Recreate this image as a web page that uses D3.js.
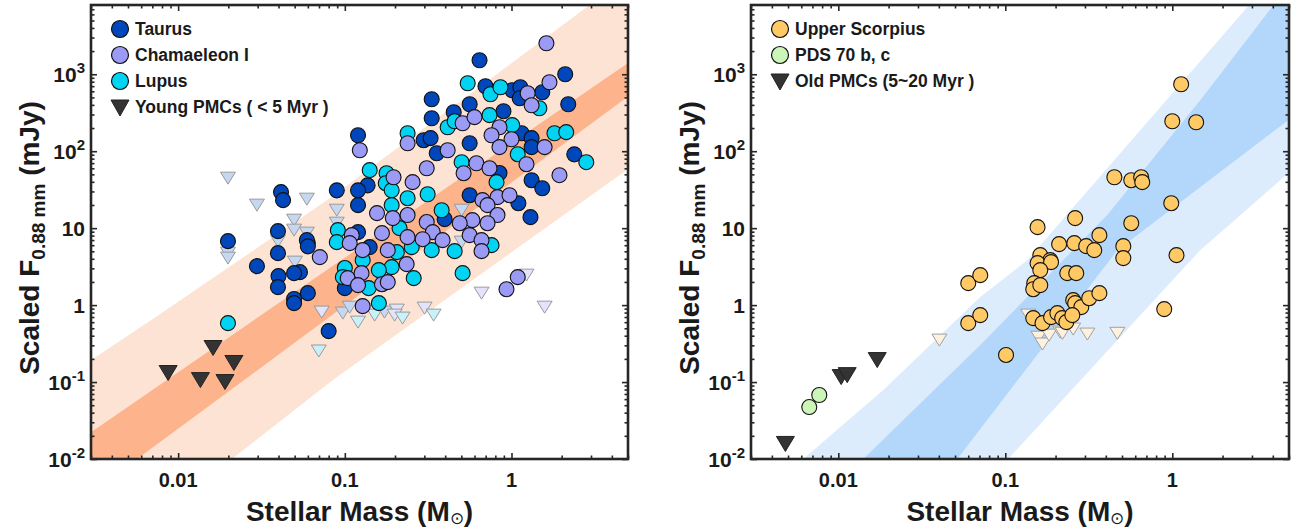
<!DOCTYPE html>
<html>
<head>
<meta charset="utf-8">
<script src="https://cdn.jsdelivr.net/npm/d3@7"></script>
<style>
  body { margin: 0; background: #fff; }
  text { font-family: "Liberation Sans", Arial, sans-serif; font-weight: bold; fill: #1a1a1a; }
</style>
</head>
<body>
<svg id="chart" width="1301" height="531"></svg>
<script>
// values are [stellar mass (Msun), scaled flux (mJy)]
const taurus = [[0.643,1520],[2.10,1000],[0.698,698],[1.01,620],[1.13,678],[1.53,584],[1.12,488],[2.19,408],[0.332,473],[0.332,268],[0.561,408],[0.450,321],[0.895,331],[1.15,171],[1.32,148],[1.32,113],[0.120,161],[0.297,139],[0.327,148],[0.356,94],[0.561,127],[2.38,91],[1.32,42],[1.53,33],[0.137,36],[0.0895,31],[0.120,31],[0.847,52],[0.120,19.9],[0.397,13.1],[0.561,26.8],[1.10,21.1],[1.30,13.9],[0.120,8.87],[0.141,5.67],[0.100,1.66],[0.080,0.459],[0.060,1.43],[0.060,6.38],[0.0538,2.68],[0.0199,6.78],[0.0297,3.21],[0.0397,9.14],[0.0397,4.73],[0.040,2.38],[0.0397,1.71],[0.0496,2.60],[0.0496,1.20],[0.0496,1.06],[0.0592,6.98],[0.060,5.8],[0.0414,29.4],[0.0426,23.1]];
const chamaeleon = [[1.62,2530],[1.25,567],[1.69,787],[1.32,396],[0.509,231],[0.600,277],[0.847,205],[0.759,161],[1.0,143],[1.58,113],[0.123,103],[0.238,127],[0.414,103],[0.847,113],[1.23,67.8],[1.94,48.8],[0.196,45.9],[0.310,60.1],[0.255,39.6],[0.516,51.8],[0.616,69.8],[0.738,60.1],[0.670,23.1],[0.824,25.3],[0.973,26.8],[0.718,19.9],[0.824,14.8],[0.583,12.7],[0.489,11.6],[0.718,11.6],[0.561,8.11],[0.661,6.98],[0.661,5.03],[0.156,15.7],[0.194,13.5],[0.238,14.8],[0.310,12.0],[0.337,8.87],[0.386,6.98],[0.293,7.19],[0.238,7.64],[0.167,8.61],[0.110,8.11],[0.107,6.38],[0.128,5.18],[0.181,5.18],[0.235,3.41],[0.104,2.24],[0.126,2.60],[0.120,1.82],[0.167,1.87],[0.181,1.99],[1.09,2.31],[0.933,1.61],[0.128,0.97],[0.0708,4.20]];
const lupus = [[0.546,764],[0.748,550],[0.859,678],[1.47,362],[0.414,205],[0.456,245],[0.738,294],[1.01,218],[1.81,171],[2.13,177],[0.238,171],[1.09,91.4],[2.81,72],[0.141,56.7],[0.178,51.8],[0.176,38.4],[0.502,72],[0.813,39.6],[0.191,31],[0.238,24.5],[0.314,27.6],[0.381,17.1],[0.191,19.9],[0.213,10],[0.759,6.01],[0.456,5.03],[0.332,5.18],[0.252,5.67],[0.0908,9.42],[0.0895,6.58],[0.128,3.84],[0.205,4.88],[0.191,3.12],[0.160,2.85],[0.1,3.03],[0.0973,2.31],[0.139,1.66],[0.259,2.24],[0.509,2.60],[0.160,1.06],[0.0199,0.583]];
const taurusLim = [[0.0199,44.6],[0.0297,19.9],[0.0592,23.8],[0.0496,12.7],[0.0496,9.42],[0.0592,8.61],[0.0397,6.78],[0.0502,3.62],[0.0199,4.73],[0.0199,4.08],[0.0895,17.1],[0.0895,11.6],[0.0973,0.787],[0.173,0.811],[0.502,17.1],[0.502,6.58],[0.107,0.94]];
const chamaeleonLim = [[0.661,1.43],[1.23,2.45],[1.58,0.94],[0.0727,0.811],[0.205,0.861],[0.301,0.914],[0.199,0.741]];
const lupusLim = [[0.0698,0.253],[0.120,0.601],[0.151,0.741],[0.222,0.678],[0.341,0.741]];
const youngPMC = [[0.00871,0.131],[0.0136,0.106],[0.0162,0.277],[0.0191,0.1],[0.0216,0.177]];

const upperSco = [[1.13,741],[1.0,245],[1.39,238],[0.450,45.9],[0.568,42],[0.651,45.9],[0.661,39.6],[0.986,21.1],[0.156,10.3],[0.262,13.5],[0.568,11.6],[0.366,8.11],[0.210,6.2],[0.259,6.38],[0.305,5.84],[0.341,5.18],[0.509,5.84],[0.162,4.46],[0.186,3.84],[0.509,4.08],[1.06,4.46],[0.060,1.93],[0.0708,2.45],[0.156,3.51],[0.188,3.62],[0.162,2.85],[0.235,2.60],[0.266,2.60],[0.149,1.93],[0.147,1.61],[0.162,1.82],[0.060,0.583],[0.0708,0.741],[0.255,1.16],[0.262,1.06],[0.285,0.94],[0.318,1.23],[0.366,1.43],[0.147,0.678],[0.167,0.583],[0.188,0.698],[0.205,0.787],[0.219,0.678],[0.232,0.601],[0.252,0.741],[0.895,0.887],[0.101,0.225]];
const upperScoLim = [[0.0403,0.351],[0.137,0.741],[0.158,0.383],[0.167,0.312],[0.183,0.407],[0.213,0.446],[0.22,0.43],[0.255,0.488],[0.310,0.42],[0.469,0.43]];
const pds70 = [[0.0067,0.0473],[0.00769,0.0678]];
const oldPMC = [[0.00482,0.0157],[0.0104,0.116],[0.0113,0.123],[0.0171,0.193]];

// relation bands, edges listed from low to high mass
const orangeOuterUp = [[0.00301,0.193],[0.00813,0.811],[0.0813,24.5],[2.93,7870],[5.6,20000]];
const orangeOuterLow = [[0.0025,0.0003],[0.021,0.01],[0.0847,0.106],[4.03,42],[5.6,69]];
const orangeInnerUp = [[0.0025,0.017],[5.6,1660]];
const orangeInnerLow = [[0.0025,0.0027],[5.6,617]];
const blueOuterUp = [[0.0025,0.0019],[0.00617,0.01],[0.0186,0.0787],[0.0708,1.27],[0.1355,3.84],[2.81,7413],[5.6,40000]];
const blueOuterLow = [[0.0316,0.0006],[0.104,0.01],[1.47,5.18],[4.95,51.8],[5.6,66]];
const blueInnerUp = [[0.005,0.0015],[0.0141,0.01],[0.0708,0.303],[0.408,14.8],[1.47,459],[4.03,7870],[5.6,20000]];
const blueInnerLow = [[0.0251,0.0013],[0.0516,0.01],[0.469,5.18],[4.95,253],[5.6,309]];

const xMajor = [0.01, 0.1, 1];
const yMajor = [0.01, 0.1, 1, 10, 100, 1000];

const svg = d3.select("#chart");
const plotTop = 5, plotBottom = 459;
const xDomain = [0.003, 5], yDomain = [0.01, Math.pow(10, 3.9)];

function triPath(w, h) {
  return "M" + (-w/2) + "," + (-h/2) + "L" + (w/2) + "," + (-h/2) + "L0," + (h/2) + "Z";
}

function minorTicks(lo, hi) {
  const out = [];
  for (let e = -4; e <= 4; e++) {
    for (let m = 2; m <= 9; m++) {
      const v = m * Math.pow(10, e);
      if (v >= lo * 0.999 && v <= hi * 1.001) out.push(v);
    }
  }
  return out;
}

function drawPanel(p) {
  const x = d3.scaleLog().domain(xDomain).range([p.x0, p.x1]);
  const y = d3.scaleLog().domain(yDomain).range([plotBottom, plotTop]);
  const g = svg.append("g");

  svg.append("clipPath").attr("id", "clip" + p.id)
    .append("rect").attr("x", p.x0).attr("y", plotTop)
    .attr("width", p.x1 - p.x0).attr("height", plotBottom - plotTop);
  const area = g.append("g").attr("clip-path", "url(#clip" + p.id + ")");

  const band = (up, low) => "M" + up.concat(low.slice().reverse())
      .map(d => x(d[0]) + "," + y(d[1])).join("L") + "Z";
  area.append("path").attr("d", band(p.outerUp, p.outerLow)).attr("fill", p.outerCol);
  area.append("path").attr("d", band(p.innerUp, p.innerLow)).attr("fill", p.innerCol);

  p.layers.forEach(function(l) {
    if (l.shape === "circle") {
      area.append("g").selectAll("circle").data(l.data).join("circle")
        .attr("cx", d => x(d[0])).attr("cy", d => y(d[1])).attr("r", 7.5)
        .attr("fill", l.fill).attr("stroke", l.stroke).attr("stroke-width", 1.1);
    } else {
      area.append("g").selectAll("path").data(l.data).join("path")
        .attr("transform", d => "translate(" + x(d[0]) + "," + y(d[1]) + ")")
        .attr("d", triPath(l.w, l.h))
        .attr("fill", l.fill).attr("stroke", l.stroke).attr("stroke-width", 1);
    }
  });

  // axes, ticks pointing inward on all four sides
  const xMin = minorTicks(xDomain[0], xDomain[1]);
  const yMin = minorTicks(yDomain[0], yDomain[1]);
  const axes = [
    [d3.axisBottom, x, "translate(0," + plotBottom + ")", xMajor, xMin],
    [d3.axisTop, x, "translate(0," + plotTop + ")", xMajor, xMin],
    [d3.axisLeft, y, "translate(" + p.x0 + ",0)", yMajor, yMin],
    [d3.axisRight, y, "translate(" + p.x1 + ",0)", yMajor, yMin]
  ];
  axes.forEach(function(a) {
    g.append("g").attr("transform", a[2])
      .call(a[0](a[1]).tickValues(a[3]).tickSizeInner(-6).tickSizeOuter(0).tickFormat(""));
    g.append("g").attr("transform", a[2])
      .call(a[0](a[1]).tickValues(a[4]).tickSizeInner(-3.5).tickSizeOuter(0).tickFormat(""));
  });
  g.selectAll(".domain").remove();
  g.selectAll(".tick line").attr("stroke", "#262626").attr("stroke-width", 1.6);

  g.append("rect").attr("x", p.x0).attr("y", plotTop)
    .attr("width", p.x1 - p.x0).attr("height", plotBottom - plotTop)
    .attr("fill", "none").attr("stroke", "#262626").attr("stroke-width", 2.6);

  // tick labels
  xMajor.forEach(function(v) {
    g.append("text").attr("x", x(v)).attr("y", 487).attr("text-anchor", "middle")
      .attr("font-size", 20).text(String(v));
  });

  yMajor.forEach(function(v) {
    const e = Math.round(Math.log10(v));
    const t = g.append("text").attr("x", p.x0 - 6).attr("y", y(v) + 8)
      .attr("text-anchor", "end").attr("font-size", 21);
    if (e === 0) t.text("1");
    else if (e === 1) t.text("10");
    else {
      t.append("tspan").text("10");
      t.append("tspan").attr("dy", -9).attr("font-size", 15).text(String(e));
    }
  });

  // axis titles
  const xt = g.append("text").attr("x", (p.x0 + p.x1) / 2).attr("y", 521)
    .attr("text-anchor", "middle").attr("font-size", 28);
  xt.append("tspan").text("Stellar Mass (M");
  xt.append("tspan").attr("dy", 3).attr("font-size", 17).attr("font-weight", "normal").text("\u2299");
  xt.append("tspan").attr("dy", -3).text(")");

  const yt = g.append("text")
    .attr("transform", "translate(" + (p.x0 - 52) + "," + ((plotTop + plotBottom) / 2 + 6) + ") rotate(-90)")
    .attr("text-anchor", "middle").attr("font-size", 28);
  yt.append("tspan").text("Scaled F");
  yt.append("tspan").attr("dy", 6).attr("font-size", 19).text("0.88 mm");
  yt.append("tspan").attr("dy", -6).text(" (mJy)");

  // legend
  const lg = g.append("g");
  p.legend.forEach(function(l, i) {
    const cy = 29 + i * 26;
    const lx = p.x0 + 29;
    if (l.shape === "circle") {
      lg.append("circle").attr("cx", lx).attr("cy", cy).attr("r", 8.5)
        .attr("fill", l.fill).attr("stroke", "#111").attr("stroke-width", 1.2);
    } else {
      lg.append("path").attr("transform", "translate(" + lx + "," + (cy + 1) + ")")
        .attr("d", triPath(18, 16)).attr("fill", l.fill).attr("stroke", "#222");
    }
    lg.append("text").attr("x", lx + 15).attr("y", cy + 6).attr("font-size", 17.5).text(l.label);
  });
}

const TAU = "#0047BB", CHA = "#9B9BF5", LUP = "#00D4F2", PMC = "#333333";

drawPanel({
  id: "a", x0: 91, x1: 628,
  outerUp: orangeOuterUp, outerLow: orangeOuterLow, outerCol: "#FDE3D3",
  innerUp: orangeInnerUp, innerLow: orangeInnerLow, innerCol: "#FDB38B",
  layers: [
    {shape: "tri", data: taurusLim, fill: "#C6D7F2", stroke: "#9a9a9a", w: 15, h: 12},
    {shape: "tri", data: chamaeleonLim, fill: "#E3E3FB", stroke: "#9a9a9a", w: 15, h: 12},
    {shape: "tri", data: lupusLim, fill: "#C8F1FA", stroke: "#9a9a9a", w: 15, h: 12},
    {shape: "circle", data: taurus, fill: TAU, stroke: "#111"},
    {shape: "circle", data: lupus, fill: LUP, stroke: "#111"},
    {shape: "circle", data: chamaeleon, fill: CHA, stroke: "#111"},
    {shape: "tri", data: youngPMC, fill: PMC, stroke: "#222", w: 18, h: 15}
  ],
  legend: [
    {shape: "circle", fill: TAU, label: "Taurus"},
    {shape: "circle", fill: CHA, label: "Chamaeleon I"},
    {shape: "circle", fill: LUP, label: "Lupus"},
    {shape: "tri", fill: PMC, label: "Young PMCs ( < 5 Myr )"}
  ]
});

drawPanel({
  id: "b", x0: 751, x1: 1289,
  outerUp: blueOuterUp, outerLow: blueOuterLow, outerCol: "#DDECFC",
  innerUp: blueInnerUp, innerLow: blueInnerLow, innerCol: "#B3D7FA",
  layers: [
    {shape: "tri", data: upperScoLim, fill: "#FFF1E0", stroke: "#a0a0a0", w: 15, h: 12},
    {shape: "circle", data: upperSco, fill: "#FFC966", stroke: "#111"},
    {shape: "circle", data: pds70, fill: "#CCF5B8", stroke: "#111"},
    {shape: "tri", data: oldPMC, fill: PMC, stroke: "#222", w: 18, h: 15}
  ],
  legend: [
    {shape: "circle", fill: "#FFC966", label: "Upper Scorpius"},
    {shape: "circle", fill: "#CCF5B8", label: "PDS 70 b, c"},
    {shape: "tri", fill: PMC, label: "Old PMCs (5~20 Myr )"}
  ]
});
</script>
</body>
</html>
